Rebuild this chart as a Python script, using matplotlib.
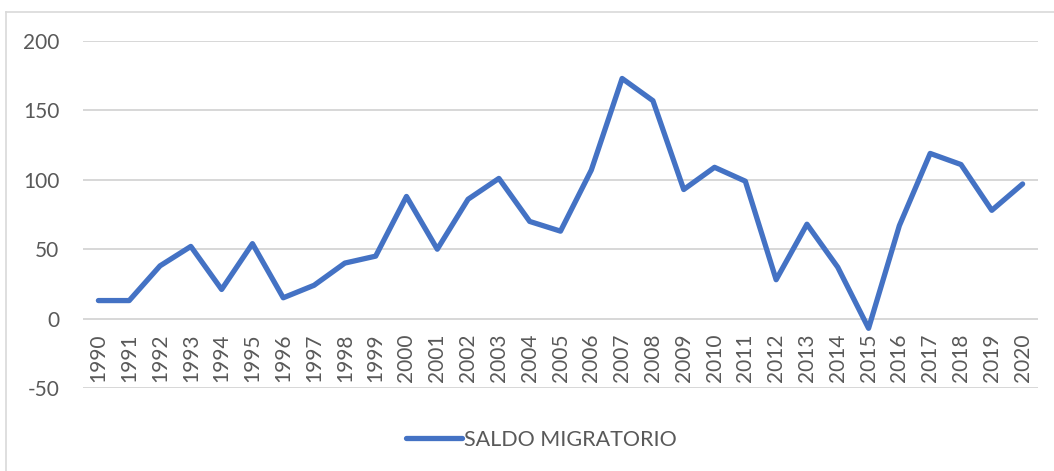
import matplotlib
matplotlib.use("Agg")
import matplotlib.pyplot as plt
from matplotlib.lines import Line2D

years = [str(y) for y in range(1990, 2021)]
saldo = [13, 13, 38, 52, 21, 54, 15, 24, 40, 45, 88, 50, 86, 101, 70, 63, 107,
         173, 157, 93, 109, 99, 28, 68, 37, -7, 67, 119, 111, 78, 97]
series_name = "SALDO MIGRATORIO"
yticks = [-50, 0, 50, 100, 150, 200]

plt.rcParams['font.family'] = ['Lato', 'DejaVu Sans']

fig = plt.figure(figsize=(10.54, 4.71), dpi=100)
ax = fig.add_axes([83/1054, 1-388/471, (1038-83)/1054, (388-41)/471])

for s in ['top', 'right', 'left']:
    ax.spines[s].set_visible(False)
ax.spines['bottom'].set_position(('data', 0))
ax.spines['bottom'].set_visible(False)

x = list(range(len(years)))
ax.plot(x, saldo, color='#4472C4', lw=3.8, solid_capstyle='round',
        solid_joinstyle='round', label=series_name, zorder=3)

ax.set_xlim(-0.5, len(years)-0.5)
ax.set_ylim(-50, 200)
ax.set_yticks(yticks)
ax.set_yticklabels([str(v) for v in yticks])
ax.set_xticks(x)
ax.set_xticklabels(years, rotation=90, va='top', ha='center')
ax.yaxis.grid(True, color='#d4d4d4', lw=1.3)
ax.set_axisbelow(True)
ax.tick_params(axis='x', length=0, pad=11, labelsize=15, labelcolor='#595959')
ax.tick_params(axis='y', length=0, pad=17, labelsize=15, labelcolor='#595959')

leg = fig.legend(loc='center', bbox_to_anchor=(541/1054, 1-440/471), frameon=False,
                 fontsize=15.5, handlelength=2.6, handletextpad=0.1, labelcolor='#595959')

# outer chart frame (partially visible)
fig.add_artist(Line2D([6/1054, 6/1054], [0, 1-12/471], transform=fig.transFigure,
                      color='#d9d9d9', lw=1.2))
fig.add_artist(Line2D([6/1054, 1], [1-12/471, 1-12/471], transform=fig.transFigure,
                      color='#d9d9d9', lw=1.2))

fig.savefig("out.png", dpi=100)
